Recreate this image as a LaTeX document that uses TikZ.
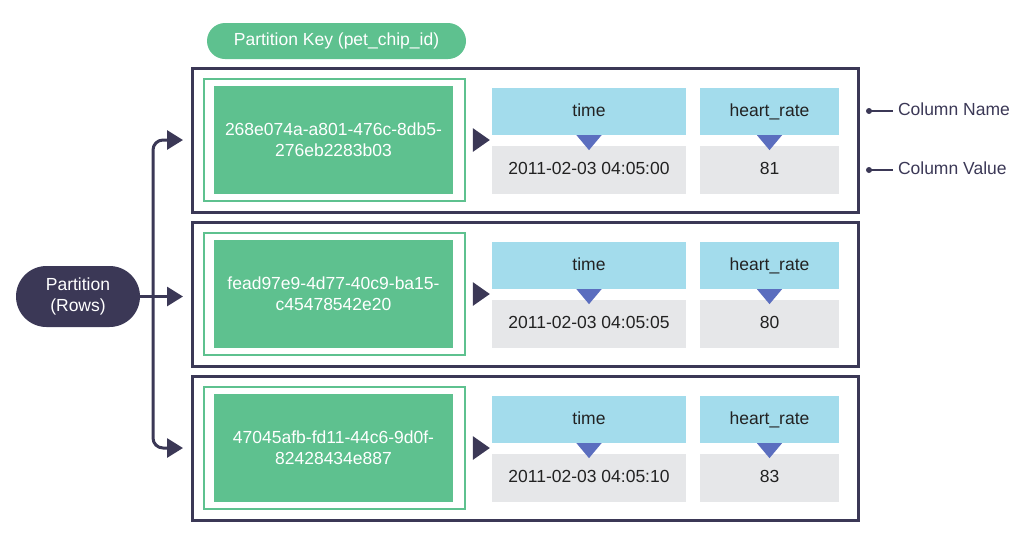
\documentclass[tikz,border=0pt]{standalone}
\usepackage{fontspec}
\setmainfont{Liberation Sans}
\usetikzlibrary{arrows.meta,shapes.geometric,shapes.misc,calc}
\definecolor{navy}{HTML}{3B3856}
\definecolor{kgreen}{HTML}{5EC18F}
\definecolor{hblue}{HTML}{A3DCEC}
\definecolor{vgray}{HTML}{E6E7E9}
\definecolor{tblue}{HTML}{5B6EBF}
\definecolor{txt}{HTML}{222222}
\tikzset{
  base/.style={inner sep=0pt, outer sep=0pt, align=center, font=\fontsize{17.5}{21}\selectfont},
  rowbox/.style={base, draw=navy, line width=3pt, minimum width=666pt, minimum height=144pt},
  keyframe/.style={base, draw=kgreen, line width=1.5pt, minimum width=261pt, minimum height=122pt},
  keybox/.style={base, fill=kgreen, text=white, minimum width=239pt, minimum height=108pt},
  namebox/.style={base, fill=hblue, text=txt, minimum height=47pt, text height=12.5pt, text depth=3.5pt},
  valbox/.style={base, fill=vgray, text=txt, minimum height=48pt, text height=12.5pt, text depth=3.5pt},
  ptr/.style={isosceles triangle, isosceles triangle apex angle=70, fill=navy, inner sep=0pt, minimum height=17pt, minimum width=19pt, shape border rotate=0},
  dtri/.style={isosceles triangle, isosceles triangle apex angle=80, fill=tblue, inner sep=0pt, minimum height=15pt, minimum width=18pt, shape border rotate=-90},
  conn/.style={draw=navy, line width=3pt, -{Triangle[length=16pt,width=19pt]}},
  pill/.style={base, rounded rectangle},
  annot/.style={base, text=navy, anchor=west, text height=12.5pt, text depth=3.5pt},
}
\begin{document}
\begin{tikzpicture}[x=1pt,y=-1pt]
\useasboundingbox (0,0) rectangle (1024,547);
% Partition key label
\node[pill, fill=kgreen, text=white, minimum width=259pt, minimum height=36pt, text height=12.5pt, text depth=3.5pt] (pk) at (336.5,41) {Partition Key (pet\_chip\_id)};
% Partition rows label
\node[pill, fill=navy, text=white, minimum width=124pt, minimum height=61pt] (part) at (78,296.5) {Partition\\(Rows)};

% Rows
\foreach \i/\key/\tm/\hr in {1/{268e074a-a801-476c-8db5-\\276eb2283b03}/{2011-02-03 04:05:00}/81,
                             2/{fead97e9-4d77-40c9-ba15-\\c45478542e20}/{2011-02-03 04:05:05}/80,
                             3/{47045afb-fd11-44c6-9d0f-\\82428434e887}/{2011-02-03 04:05:10}/83}{
  \pgfmathsetmacro{\yz}{68+154*(\i-1)}
  \node[rowbox] (row\i) at (525,\yz+72) {};
  \node[keyframe] (kf\i) at (334.5,\yz+72) {};
  \node[keybox] (key\i) at (333.5,\yz+72) {\key};
  \node[ptr] (p\i) at (479,\yz+72) {};
  \node[namebox, minimum width=194pt] (tn\i) at (589,\yz+43.5) {time};
  \node[valbox, minimum width=194pt] (tv\i) at (589,\yz+102) {\tm};
  \node[namebox, minimum width=139pt] (hn\i) at (769.5,\yz+43.5) {heart\_rate};
  \node[valbox, minimum width=139pt] (hv\i) at (769.5,\yz+102) {\hr};
  \node[dtri] (ta\i) at (589,\yz+73) {};
  \node[dtri] (ha\i) at (769.5,\yz+73) {};
}

% Connectors from partition
\coordinate (j) at (153,296.5);
\draw[conn] (part.east) -- ([xshift=-9pt]row2.west |- part.east);
\draw[conn, rounded corners=10pt] (j) |- ([xshift=-9pt]row1.west |- key1.center);
\draw[conn, rounded corners=10pt] (j) |- ([xshift=-9pt]row3.west |- key3.center);

% Annotations
\node[annot] (cn) at (898,111) {Column Name};
\node[annot] (cv) at (898,170) {Column Value};
\coordinate (cnd) at (869,111);
\coordinate (cvd) at (869,170);
\fill[navy] (cnd) circle (3pt);
\fill[navy] (cvd) circle (3pt);
\draw[navy, line width=1.5pt] (cnd) -- ([xshift=-5pt]cn.west);
\draw[navy, line width=1.5pt] (cvd) -- ([xshift=-5pt]cv.west);
\end{tikzpicture}
\end{document}
